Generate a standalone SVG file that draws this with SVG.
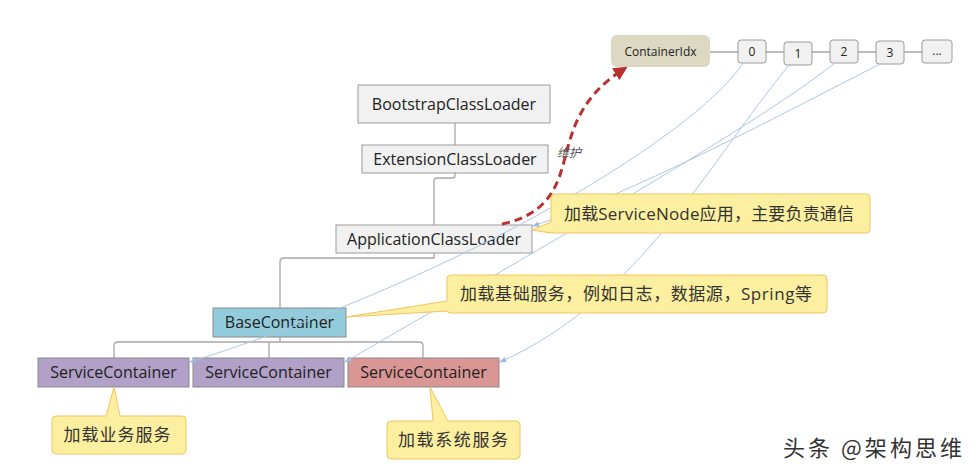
<svg xmlns="http://www.w3.org/2000/svg" width="976" height="475" viewBox="0 0 976 475">
<defs>
<style>
.box{fill:#f1f1f1;stroke:#9a9a9a;stroke-width:1}
.lbl{font-family:"Open Sans","Noto Sans",sans-serif;font-size:16px;fill:#222;text-anchor:middle}
.idx{font-family:"Open Sans","Noto Sans",sans-serif;font-size:12px;fill:#222;text-anchor:middle}
.tree{fill:none;stroke:#a6a6a6;stroke-width:1.3}
.link{fill:none;stroke:#aec8e4;stroke-width:1;marker-end:url(#blue)}
.note{fill:#fcef9f;stroke:#f2c462;stroke-width:1}
.ntxt{font-family:"Open Sans","Noto Sans CJK SC",sans-serif;font-size:17px;fill:#333;text-anchor:middle}
</style>
<marker id="blue" viewBox="0 0 10 10" refX="9" refY="5" markerWidth="7" markerHeight="7" orient="auto" markerUnits="userSpaceOnUse">
<path d="M0,1 L10,5 L0,9 Z" fill="#9dbbe0"/>
</marker>
<marker id="red" viewBox="0 0 10 10" refX="7" refY="5" markerWidth="14" markerHeight="14" orient="auto" markerUnits="userSpaceOnUse">
<path d="M0,0 L10,5 L0,10 Z" fill="#b8312f"/>
</marker>
</defs>
<rect width="976" height="475" fill="#fff"/>

<g id="tree-connectors">
<path class="tree" d="M455,123 V145"/>
<path class="tree" d="M455,173 V176 Q455,178 452,178 H437 Q434,178 434,181 V225"/>
<path class="tree" d="M434,253 V258 H284 Q280,258 280,262 V308"/>
<path class="tree" d="M280,337 V342"/>
<path class="tree" d="M114,358 V346 Q114,342 118,342 H419 Q423,342 423,346 V358"/>
<path class="tree" d="M269,342 V358"/>
<path class="tree" d="M710,52 H738 M766,52 H784 M812,52 H830 M858,52 H876 M904,52 H922"/>
</g>

<g id="nodes">
<g id="bootstrap"><rect class="box" x="358" y="85" width="192" height="38"/><text class="lbl" x="454" y="109.5">BootstrapClassLoader</text></g>
<g id="extension"><rect class="box" x="362" y="145" width="186" height="28"/><text class="lbl" x="455" y="164.5">ExtensionClassLoader</text></g>
<g id="application"><rect class="box" x="336" y="225" width="196" height="28"/><text class="lbl" x="434" y="244.5">ApplicationClassLoader</text></g>
<g id="base"><rect x="213" y="308" width="133" height="29" fill="#92cbdc" stroke="#8a8a8a"/><text class="lbl" x="279.5" y="328">BaseContainer</text></g>
<g id="sc1"><rect x="38" y="358" width="151" height="29" fill="#b1a0c8" stroke="#8a8a8a"/><text class="lbl" x="113.5" y="378">ServiceContainer</text></g>
<g id="sc2"><rect x="193" y="358" width="151" height="29" fill="#b1a0c8" stroke="#8a8a8a"/><text class="lbl" x="268.5" y="378">ServiceContainer</text></g>
<g id="sc3"><rect x="348" y="358" width="151" height="29" fill="#d99694" stroke="#8a8a8a"/><text class="lbl" x="423.5" y="378">ServiceContainer</text></g>
<g id="containeridx"><rect x="611" y="35" width="99" height="32" rx="6" fill="#ddd8c2"/><text class="idx" x="660.5" y="55.5">ContainerIdx</text></g>
<g id="idx0"><rect class="box" x="738" y="40" width="28" height="23" rx="3" stroke="#8a8a8a"/><text class="idx" x="752" y="56">0</text></g>
<g id="idx1"><rect class="box" x="784" y="42" width="28" height="23" rx="3" stroke="#8a8a8a"/><text class="idx" x="798" y="58">1</text></g>
<g id="idx2"><rect class="box" x="830" y="40" width="28" height="23" rx="3" stroke="#8a8a8a"/><text class="idx" x="844" y="56">2</text></g>
<g id="idx3"><rect class="box" x="876" y="41" width="28" height="23" rx="3" stroke="#8a8a8a"/><text class="idx" x="890" y="57">3</text></g>
<g id="idxmore"><rect class="box" x="922" y="40" width="30" height="23" rx="3" stroke="#8a8a8a"/><text class="idx" x="937" y="55">...</text></g>
</g>

<g id="links">
<path class="link" d="M743,63 C700,130 480,270 190,362"/>
<path class="link" d="M790,64 C710,160 640,300 500,362"/>
<path class="link" d="M835,63 C750,130 520,260 345,362"/>
<path class="link" d="M880,64 C780,115 640,190 533,226"/>
<path d="M502,224 C560,212 560,170 570,140 C580,105 600,84 624,69" fill="none" stroke="#b8312f" stroke-width="3" stroke-dasharray="8,5" marker-end="url(#red)"/>
<text x="557" y="157" font-family="'Noto Sans CJK SC',sans-serif" font-size="12" font-style="italic" fill="#555">维护</text>
</g>

<g id="note-servicenode">
<path class="note" d="M555,194 H866 Q870,194 870,198 V229 Q870,233 866,233 H551 L532,230 L551,222 V198 Q551,194 555,194 Z"/>
<text class="ntxt" x="709" y="220" textLength="290" lengthAdjust="spacing">加载ServiceNode应用，主要负责通信</text>
</g>
<g id="note-base">
<path class="note" d="M451,275 H823 Q827,275 827,279 V309 Q827,313 823,313 H451 Q447,313 447,311 L346,317 L447,301 V279 Q447,275 451,275 Z"/>
<text class="ntxt" x="636" y="300" textLength="352" lengthAdjust="spacing">加载基础服务，例如日志，数据源，Spring等</text>
</g>
<g id="note-biz">
<path class="note" d="M56,416 H106 L114,387 L120,416 H182 Q186,416 186,420 V450 Q186,454 182,454 H56 Q52,454 52,450 V420 Q52,416 56,416 Z"/>
<text class="ntxt" x="117" y="441" textLength="107" lengthAdjust="spacing">加载业务服务</text>
</g>
<g id="note-sys">
<path class="note" d="M391,421 H433 L430,387 L448,421 H516 Q520,421 520,425 V455 Q520,459 516,459 H391 Q387,459 387,455 V425 Q387,421 391,421 Z"/>
<text class="ntxt" x="453" y="446" textLength="110" lengthAdjust="spacing">加载系统服务</text>
</g>

<text x="783" y="456" font-family="'Noto Sans CJK SC',sans-serif" font-size="22" fill="#333" textLength="179" lengthAdjust="spacing">头条 @架构思维</text>
</svg>
